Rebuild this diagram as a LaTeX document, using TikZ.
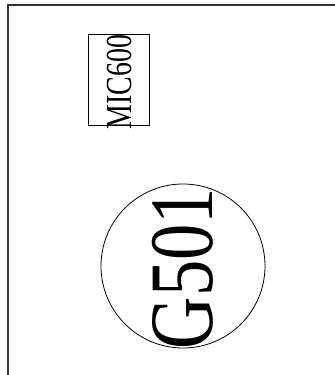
\documentclass[tikz,border=0pt]{standalone}
\usepackage{fontspec}
\setmainfont{Liberation Serif}
\usepackage{graphicx}
\begin{document}
\begin{tikzpicture}[x=0.75pt,y=-0.75pt,
  frameline/.style={draw=black!80, line width=1.1pt},
  thinline/.style={draw=black, line width=0.6pt},
  vlabel/.style={rotate=90, inner sep=0pt, outer sep=0pt}]
\useasboundingbox (0,0) rectangle (335,375);
\coordinate (fbl) at (8,375);
\coordinate (ftl) at (8,5);
\coordinate (ftr) at (335,5);
\draw[frameline] (fbl) -- (ftl) -- (ftr);
\node[thinline, rectangle, minimum width=45.75pt, minimum height=68.25pt, inner sep=0pt] (box) at (118.5,79.5) {};
\node[vlabel] (mic) at (119,82) {\fontsize{27.5pt}{29pt}\selectfont\scalebox{0.76}[1]{MIC600}};
\node[thinline, circle, minimum size=123pt, inner sep=0pt] (circ) at (183,266) {};
\node[vlabel] (g) at (183,268.5) {\fontsize{68pt}{70pt}\selectfont\scalebox{0.8}[1]{G501}};
\end{tikzpicture}
\end{document}
